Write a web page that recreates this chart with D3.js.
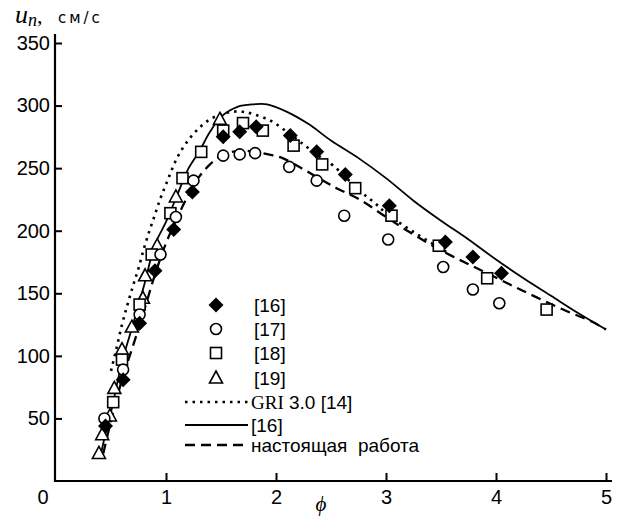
<!DOCTYPE html>
<html><head><meta charset="utf-8">
<script src="https://cdn.jsdelivr.net/npm/d3@7/dist/d3.min.js"></script>
<style>
body{margin:0;background:#fff;}
svg{display:block;}
</style></head>
<body>
<svg id="chart" width="618" height="518"></svg>
<script>
// ---- data (phi, u_n in cm/s) ----
const xTicks = [1, 2, 3, 4, 5];
const yTicks = [50, 100, 150, 200, 250, 300, 350];

const ref16pts = [[0.45,44],[0.61,81],[0.76,126],[0.90,168],[1.07,201],[1.24,231],[1.52,275],[1.67,279],[1.82,283],[2.13,276],[2.37,263],[2.63,245],[3.03,220],[3.54,191],[3.79,179],[4.05,166]];
const ref17pts = [[0.44,50],[0.61,89],[0.76,133],[0.95,181],[1.09,211],[1.25,240],[1.52,260],[1.67,261],[1.81,262],[2.12,251],[2.37,240],[2.62,212],[3.02,193],[3.52,171],[3.79,153],[4.03,142]];
const ref18pts = [[0.52,63],[0.60,97],[0.76,141],[0.87,181],[1.04,214],[1.15,242],[1.32,263],[1.52,280],[1.70,286],[1.88,280],[2.16,268],[2.42,253],[2.72,234],[3.05,212],[3.48,188],[3.92,162],[4.46,137]];
const ref19pts = [[0.39,22],[0.42,37],[0.49,52],[0.53,74],[0.60,105],[0.69,123],[0.79,146],[0.81,164],[0.92,188],[1.09,227],[1.49,289]];

const griLine = [[0.50,88],[0.55,106],[0.60,125],[0.65,141],[0.70,156],[0.75,170],[0.80,186],[0.85,200],[0.90,213],[0.95,226],[1.00,237],[1.10,258],[1.20,272],[1.30,282],[1.40,289],[1.50,293],[1.60,295],[1.70,295],[1.80,293],[1.95,288],[2.10,279],[2.22,271],[2.40,259],[2.52,252],[2.76,232],[2.90,222],[3.00,214],[3.25,199],[3.55,183]];
const ref16Line = [[0.40,18],[0.45,38],[0.50,55],[0.60,95],[0.70,125],[0.80,156],[0.90,189],[1.00,207],[1.10,228],[1.20,249],[1.30,263],[1.40,279],[1.50,291],[1.65,299],[1.80,301],[1.92,301],[2.10,295],[2.30,285],[2.50,272],[2.75,258],[3.00,242],[3.25,224],[3.50,208],[3.75,193],[4.00,177],[4.25,162],[4.50,148],[4.75,134],[5.00,121]];
const presentLine = [[0.43,22],[0.50,48],[0.60,81],[0.70,108],[0.80,136],[0.90,165],[1.00,190],[1.10,210],[1.20,228],[1.30,243],[1.40,253],[1.50,260],[1.60,263],[1.70,264],[1.80,263],[1.93,261],[2.06,258],[2.25,249],[2.55,234],[2.76,225],[3.00,211],[3.25,197],[3.55,182],[3.85,169],[4.22,153],[4.61,137],[4.88,127],[5.00,121]];

const legendMarks = ["[16]", "[17]", "[18]", "[19]"];
const legendLines = ["GRI 3.0 [14]", "[16]", "настоящая  работа"];

// ---- drawing ----
const svg = d3.select("#chart");
const x = d3.scaleLinear().domain([0, 5]).range([56, 606]);
const y = d3.scaleLinear().domain([0, 350]).range([481, 43]);
const FONT = "'Liberation Sans', Arial, sans-serif";

// axes
const gx = svg.append("g").attr("transform", "translate(0,481)")
  .call(d3.axisBottom(x).tickValues(xTicks).tickFormat(d3.format("d")).tickSizeInner(-8).tickSizeOuter(0).tickPadding(9));
const gy = svg.append("g").attr("transform", "translate(55,0)")
  .call(d3.axisLeft(y).tickValues(yTicks).tickFormat(d3.format("d")).tickSizeInner(-7).tickSizeOuter(0).tickPadding(5));
[gx, gy].forEach(g => {
  g.select(".domain").remove();
  g.selectAll(".tick line").attr("stroke", "#000").attr("stroke-width", 2);
  g.selectAll(".tick text").attr("fill", "#000").style("font-family", FONT).style("font-size", "20px");
});
svg.append("line").attr("x1", 55).attr("x2", 612).attr("y1", 481).attr("y2", 481).attr("stroke", "#000").attr("stroke-width", 2.2);
svg.append("line").attr("x1", 55).attr("x2", 55).attr("y1", 482).attr("y2", 34).attr("stroke", "#000").attr("stroke-width", 2.2);

svg.append("text").attr("x", 43).attr("y", 497).attr("dy", "0.35em").attr("text-anchor", "middle")
  .style("font-family", FONT).style("font-size", "20px").text("0");

// axis titles
svg.append("text").attr("x", 321).attr("y", 511).attr("text-anchor", "middle")
  .style("font-family", "'Liberation Serif','DejaVu Serif',serif").style("font-style", "italic").style("font-size", "21px").text("ϕ");
const title = svg.append("text").attr("x", 15).attr("y", 23)
  .style("font-family", "'Liberation Serif','DejaVu Serif',serif").style("font-style", "italic").style("font-size", "26px");
title.append("tspan").text("u");
title.append("tspan").attr("dy", 3).style("font-size", "18px").text("n");
title.append("tspan").attr("dy", -3).style("font-style", "normal").style("font-size", "22px").text(",");
svg.append("text").attr("x", 58).attr("y", 23)
  .style("font-family", "'DejaVu Sans',sans-serif").style("font-size", "15px").style("letter-spacing", "3px").text("см/с");

// lines
const line = d3.line().x(d => x(d[0])).y(d => y(d[1])).curve(d3.curveCatmullRom.alpha(0.5));
svg.append("path").datum(ref16Line).attr("d", line).attr("fill", "none").attr("stroke", "#000").attr("stroke-width", 1.8);
svg.append("path").datum(presentLine).attr("d", line).attr("fill", "none").attr("stroke", "#000").attr("stroke-width", 2.3).attr("stroke-dasharray", "10,6");
svg.append("path").datum(griLine).attr("d", line).attr("fill", "none").attr("stroke", "#000").attr("stroke-width", 2.6).attr("stroke-dasharray", "2.5,5");

// markers
function marker(sel, type) {
  if (type === 0) {
    sel.append("path").attr("d", "M0,-7.5L7.5,0L0,7.5L-7.5,0Z").attr("fill", "#000");
  } else if (type === 1) {
    sel.append("circle").attr("r", 5.5).attr("fill", "#fff").attr("stroke", "#000").attr("stroke-width", 1.6);
  } else if (type === 2) {
    sel.append("rect").attr("x", -5.5).attr("y", -5.5).attr("width", 11).attr("height", 11).attr("fill", "#fff").attr("stroke", "#000").attr("stroke-width", 1.6);
  } else {
    sel.append("path").attr("d", "M0,-7L6.5,5L-6.5,5Z").attr("fill", "#fff").attr("stroke", "#000").attr("stroke-width", 1.6);
  }
}
[ref19pts, ref18pts, ref17pts, ref16pts].forEach((pts, i) => {
  const type = 3 - i;
  svg.append("g").selectAll("g").data(pts).join("g")
    .attr("transform", d => `translate(${x(d[0])},${y(d[1])})`)
    .each(function() { marker(d3.select(this), type); });
});

// legend
const legY = [305, 329, 353, 378];
legendMarks.forEach((t, i) => {
  const g = svg.append("g").attr("transform", `translate(216,${legY[i]})`);
  marker(g, i);
  svg.append("text").attr("x", 254).attr("y", legY[i]).attr("dy", "0.36em")
    .style("font-family", FONT).style("font-size", "19px").text(t);
});
const lineY = [402, 425, 445];
const lineStyles = [{w: 2.6, dash: "2.5,5"}, {w: 1.8, dash: null}, {w: 2.3, dash: "10,6"}];
legendLines.forEach((t, i) => {
  const l = svg.append("line").attr("x1", 185).attr("x2", 248).attr("y1", lineY[i]).attr("y2", lineY[i])
    .attr("stroke", "#000").attr("stroke-width", lineStyles[i].w);
  if (lineStyles[i].dash) l.attr("stroke-dasharray", lineStyles[i].dash);
  const tx = svg.append("text").attr("x", 251).attr("y", lineY[i]).attr("dy", "0.36em")
    .style("font-family", FONT).style("font-size", "19px").style("white-space", "pre");
  if (i === 0) {
    tx.append("tspan").style("font-family", "'Liberation Serif',serif").text("GRI");
    tx.append("tspan").text(" 3.0 [14]");
  } else {
    tx.text(t);
  }
});
</script>
</body></html>
